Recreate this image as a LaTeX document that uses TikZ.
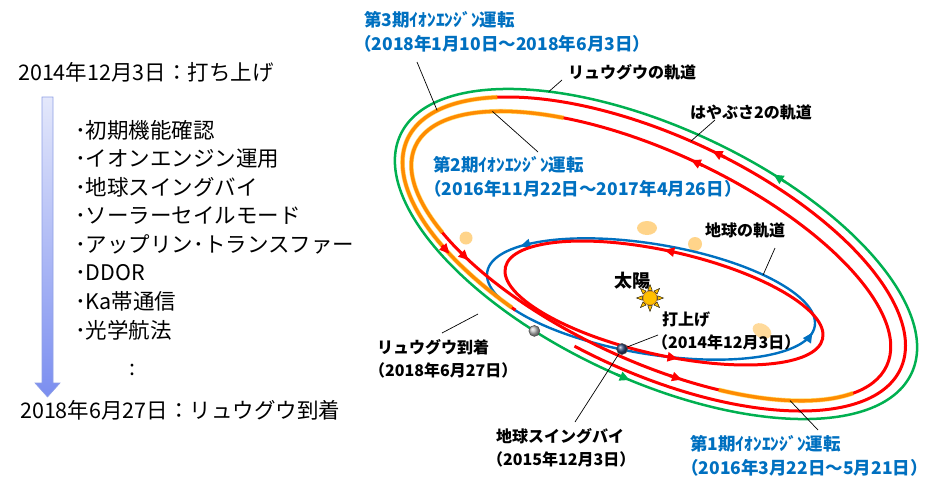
\documentclass[tikz,border=0pt]{standalone}
\usepackage{fontspec}
\setmainfont{Noto Sans CJK JP}
\usetikzlibrary{arrows.meta}

\definecolor{OrbitRed}{HTML}{FF0000}
\definecolor{OrbitGreen}{HTML}{00B050}
\definecolor{OrbitBlue}{HTML}{0070C0}
\definecolor{BurnOrange}{HTML}{FF8C00}
\definecolor{BurnGlow}{HTML}{FFC000}
\definecolor{DustOrange}{HTML}{FFD48A}
\definecolor{SunYellow}{HTML}{FFC000}
\definecolor{EarthNavy}{HTML}{2F4A7A}
\definecolor{ArrowTop}{HTML}{E4E8FB}
\definecolor{ArrowBottom}{HTML}{7B8EF0}
\definecolor{ArrowEdge}{HTML}{8FA0E6}

% arrow head sitting on an orbit: x radius, y radius, angle, style
\newcommand{\orbittip}[4]{%
  \draw[#4, -{Triangle[length=10pt, width=9pt]}]
    ({#1*cos(#3+2)},{#2*sin(#3+2)}) -- ({#1*cos(#3-1)},{#2*sin(#3-1)});}

\begin{document}
\begin{tikzpicture}[x=1pt, y=-1pt,
    earthorb/.style={OrbitBlue, line width=2.4pt},
    hayaorb/.style={OrbitRed, line width=3pt},
    ryuguorb/.style={OrbitGreen, line width=2.5pt},
    burn/.style={BurnOrange, line width=3pt},
    burnglow/.style={BurnGlow, line width=4.6pt, opacity=0.6},
    lbl/.style={font=\bfseries\fontsize{16}{23}\selectfont, align=left, anchor=west, inner sep=0pt},
    ionlbl/.style={lbl, font=\bfseries\fontsize{17.5}{24}\selectfont, text=OrbitBlue},
    lead/.style={black, line width=0.7pt},
    plan/.style={font=\fontsize{21.5}{26}\selectfont, anchor=west, inner sep=0pt},
    bodydot/.style={circle, draw=black!70, line width=0.5pt, minimum size=11pt, inner sep=0pt, shading=ball}]

\useasboundingbox (0,0) rectangle (939,480);

% ---- schedule on the left ----
\node[plan] (launchday) at (18,72) {2014年12月3日：打ち上げ};
\shade[top color=ArrowTop, bottom color=ArrowBottom, draw=ArrowEdge, line width=0.6pt]
  (42,97) -- (53,97) -- (53,383) -- (60,383) -- (47.5,397) -- (35,383) -- (42,383) -- cycle;
\foreach \task [count=\i] in {初期機能確認, イオンエンジン運用, 地球スイングバイ, ソーラーセイルモード,
    アップリン･トランスファー, DDOR, Ka帯通信, 光学航法}
  \node[plan] (task\i) at (75,101.5+28.55*\i) {･\task};
\node[plan] (etc) at (129,370) {:};
\node[plan] (arrivalday) at (20,410) {2018年6月27日：リュウグウ到着};

% ---- dust clouds ----
\fill[DustOrange] (466,238) circle (6.5);
\fill[DustOrange] (647,228) ellipse [x radius=10, y radius=7];
\fill[DustOrange] (695,244) circle (7);
\fill[DustOrange, opacity=0.85, rotate around={-30:(762,331)}] (762,331) ellipse [x radius=10, y radius=7];

% Earth orbit
\begin{scope}[shift={(651,299)}, rotate=-9.4]
  \draw[earthorb] (0,0) ellipse [x radius=166, y radius=55];
  \orbittip{166}{55}{215}{earthorb}
  \orbittip{166}{55}{8}{earthorb}
  \coordinate (eorbpt) at ({166*cos(-50)},{55*sin(-50)});
\end{scope}

% Hayabusa2: first year, launch to swing-by
\begin{scope}[shift={(664,303)}, rotate=-12.7]
  \draw[hayaorb] (0,0) ellipse [x radius=162.6, y radius=51.9];
  \orbittip{162.6}{51.9}{-93}{hayaorb}
  \orbittip{162.6}{51.9}{82}{hayaorb}
\end{scope}

% Hayabusa2: first loop after swing-by
\begin{scope}[shift={(651,256)}, rotate=-25]
  \draw[hayaorb] (0,0) ellipse [x radius=260, y radius=104];
  \draw[burnglow] plot[domain=22:63, samples=30, smooth] ({260*cos(\x)},{104*sin(\x)});
  \draw[burn] plot[domain=22:63, samples=30, smooth] ({260*cos(\x)},{104*sin(\x)});
  \draw[burnglow] plot[domain=140:238, samples=60, smooth] ({260*cos(\x)},{104*sin(\x)});
  \draw[burn] plot[domain=140:238, samples=60, smooth] ({260*cos(\x)},{104*sin(\x)});
  \orbittip{260}{104}{73}{hayaorb}
  \orbittip{260}{104}{130}{hayaorb}
  \orbittip{260}{104}{-90}{hayaorb}
  \coordinate (ion1pt) at ({260*cos(44)},{104*sin(44)});
  \coordinate (ion2pt) at ({260*cos(-142)},{104*sin(-142)});
\end{scope}

% Hayabusa2: second loop, ends at Ryugu
\begin{scope}[shift={(654,254)}, rotate=-25]
  \draw[hayaorb] plot[domain=-248:97, samples=240, smooth] ({272*cos(\x)},{118*sin(\x)});
  \draw[burnglow] plot[domain=113:220, samples=60, smooth] ({272*cos(\x)},{118*sin(\x)});
  \draw[burn] plot[domain=113:220, samples=60, smooth] ({272*cos(\x)},{118*sin(\x)});
  \orbittip{272}{118}{-87}{hayaorb}
  \orbittip{272}{118}{134}{hayaorb}
  \coordinate (horbpt) at ({272*cos(-93)},{118*sin(-93)});
  \coordinate (ion3pt) at ({272*cos(-161)},{118*sin(-161)});
\end{scope}

% Ryugu orbit
\begin{scope}[shift={(656,254)}, rotate=-25]
  \draw[ryuguorb] (0,0) ellipse [x radius=282, y radius=126];
  \orbittip{282}{126}{-74}{ryuguorb}
  \orbittip{282}{126}{85}{ryuguorb}
  \coordinate (rorbpt) at ({282*cos(-126)},{126*sin(-126)});
  \coordinate (ryugupt) at ({282*cos(106)},{126*sin(106)});
\end{scope}

% Sun
\begin{scope}[shift={(650,298)}]
  \foreach \a in {0,45,...,315}
    \filldraw[fill=SunYellow, draw=black, line width=0.4pt] (\a-16:8) -- (\a:13.5) -- (\a+16:8) -- cycle;
  \filldraw[fill=SunYellow, draw=BurnOrange!70!black, line width=0.5pt] (0,0) circle (7);
\end{scope}

% Earth and Ryugu
\node[bodydot, ball color=EarthNavy] (earth) at (622,349) {};
\node[bodydot, ball color=gray!50] (ryugu) at (ryugupt) {};
\coordinate (arrivalpt) at (478,314);

% ---- labels ----
\node[ionlbl] (ion3) at (354,31.5) {\hspace*{10pt}第3期ｲｵﾝｴﾝｼﾞﾝ運転\\（2018年1月10日～2018年6月3日）};
\node[ionlbl] (ion2) at (424,176.5) {\hspace*{9pt}第2期ｲｵﾝｴﾝｼﾞﾝ運転\\（2016年11月22日～2017年4月26日）};
\node[ionlbl] (ion1) at (681,455.5) {\hspace*{9pt}第1期ｲｵﾝｴﾝｼﾞﾝ運転\\（2016年3月22日～5月21日）};
\node[lbl] (rorb) at (568,72) {リュウグウの軌道};
\node[lbl] (horb) at (690,112) {はやぶさ2の軌道};
\node[lbl] (eorb) at (705,230) {地球の軌道};
\node[lbl, anchor=center, font=\bfseries\fontsize{18}{23}\selectfont] (sunlbl) at (632,281) {太陽};
\node[lbl] (launch) at (652,330.5) {\hspace*{10pt}打上げ\\（2014年12月3日）};
\node[lbl] (arrival) at (369,359) {\hspace*{8pt}リュウグウ到着\\（2018年6月27日）};
\node[lbl] (swingby) at (487,447.5) {\hspace*{9pt}地球スイングバイ\\（2015年12月3日）};

% leader lines
\draw[lead] (ion3.west) ++(63,30.5) -- (ion3pt);
\draw[lead] (rorb.west) ++(-6,8) -- (rorbpt);
\draw[lead] (ion2.west) ++(114,-24.5) -- (ion2pt);
\draw[lead] (horb.west) ++(25,8) -- (horbpt);
\draw[lead] (eorb.west) ++(70,18) -- (eorbpt);
\draw[lead] (launch.west) ++(6,4.5) -- (earth);
\draw[lead] (swingby.west) ++(88,-25.5) -- (earth);
\draw[lead] (arrival.west) ++(73,-26) -- (arrivalpt);
\draw[lead] (ion1.west) ++(137,-25.5) -- (ion1pt);
\end{tikzpicture}
\end{document}
